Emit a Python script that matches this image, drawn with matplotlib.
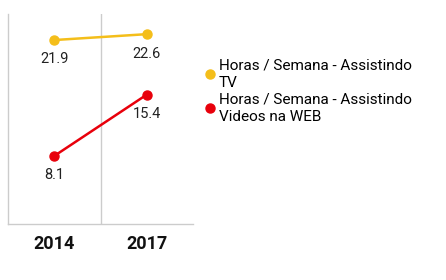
import matplotlib
matplotlib.use("Agg")
import matplotlib.pyplot as plt
from matplotlib.lines import Line2D

plt.rcParams['font.family'] = ['Roboto', 'DejaVu Sans']

years = ["2014", "2017"]
tv_hours = [21.9, 22.6]
web_hours = [8.1, 15.4]
series_names = ["Horas / Semana - Assistindo\nTV",
                "Horas / Semana - Assistindo\nVideos na WEB"]
colors = ["#F4BE1A", "#E8000B"]

fig = plt.figure(figsize=(4.46, 2.80), dpi=100)
ax = fig.add_axes([8 / 446, 56 / 280, 185 / 446, 210 / 280])

x = [0.5, 1.5]
for vals, col in zip([tv_hours, web_hours], colors):
    ax.plot(x, vals, color=col, lw=1.8, marker="o", markersize=6.5, zorder=3)
    for xi, v in zip(x, vals):
        ax.annotate(f"{v}", (xi, v), xytext=(0, -14), textcoords="offset points",
                    ha="center", va="center", fontsize=10.5, color="#222222")

ax.set_xlim(0, 2)
ax.set_ylim(0, 25)
ax.axvline(1, color="#cccccc", lw=1, zorder=1)
ax.set_xticks(x)
ax.set_xticklabels(years, fontsize=13, fontweight="bold", color="#111111")
ax.tick_params(axis="x", length=0, pad=8)
ax.set_yticks([])
for s in ["top", "right"]:
    ax.spines[s].set_visible(False)
for s in ["left", "bottom"]:
    ax.spines[s].set_color("#cccccc")
    ax.spines[s].set_linewidth(1)

handles = [Line2D([], [], color=c, marker="o", linestyle="none", markersize=6.5)
           for c in colors]
leg = fig.legend(handles, series_names, loc="upper left",
                 bbox_to_anchor=(205 / 446, 1 - 58 / 280),
                 frameon=False, fontsize=11, handlelength=0.6, handletextpad=0.3,
                 labelspacing=0.15, borderaxespad=0, borderpad=0)
for t in leg.get_texts():
    t.set_linespacing(1.35)

fig.savefig("out.png", dpi=100)
